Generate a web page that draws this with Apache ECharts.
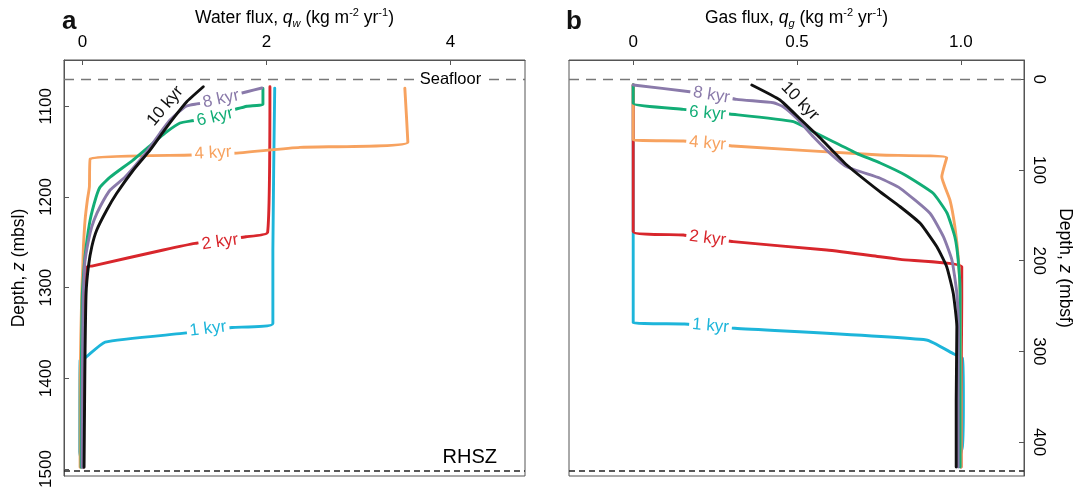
<!DOCTYPE html>
<html>
<head>
<meta charset="utf-8">
<title>Water and gas flux profiles</title>
<script src="https://cdn.jsdelivr.net/npm/echarts@6.0.0/dist/echarts.min.js"></script>
<style>
  html, body { margin: 0; padding: 0; background: #fff; }
  #chart { width: 1084px; height: 489px; }
</style>
</head>
<body>
<div id="chart"></div>
<script>
// ---- Data -------------------------------------------------------------
// Depth of the seafloor and of the regional hydrate stability zone base (mbsl)
const seafloorDepth = 1070.3;
const rhszDepth = 1502;

// Tick values
const waterTicks = [0, 2, 4];
const gasTicks = [0, 0.5, 1.0];
const mbslTicks = [1100, 1200, 1300, 1400, 1500];
const mbsfTicks = [0, 100, 200, 300, 400];

// Panel a: water flux q_w (kg m-2 yr-1) against depth (mbsl), [flux, depth]
const water1kyr = [[2.09, 1080], [2.07, 1259], [2.07, 1339.5], [1.625, 1344], [1.083, 1350.5], [0.247, 1360], [0.029, 1377.4], [-0.025, 1380], [-0.03, 1481], [0.008, 1498]];
const water2kyr = [[2.038, 1078.5], [2.013, 1239], [1.777, 1243.9], [1.224, 1251.2], [0.879, 1258.5], [0.102, 1276.2], [0.054, 1277], [0.029, 1313.7], [0.008, 1424], [0.008, 1498]];
const water4kyr = [[3.504, 1080], [3.537, 1139.6], [2.364, 1145.3], [1.638, 1151.9], [1.188, 1153.8], [0.084, 1158.2], [0.076, 1188.8], [0.054, 1203.4], [0.029, 1225.5], [0.011, 1255], [0.004, 1277], [-0.007, 1306], [-0.025, 1402], [-0.025, 1498]];
const water6kyr = [[1.962, 1080.3], [1.962, 1097.8], [1.788, 1100], [1.224, 1115.4], [1.061, 1118.5], [0.898, 1129.5], [0.768, 1140.6], [0.55, 1159.3], [0.301, 1178.1], [0.192, 1189.1], [0.149, 1200.1], [0.084, 1225.5], [0.04, 1255.2], [0.018, 1277.3], [-0.003, 1313.7], [-0.014, 1424], [-0.014, 1498]];
const water8kyr = [[1.951, 1079.9], [1.788, 1084], [1.278, 1096.8], [1.169, 1098.7], [1.115, 1100.6], [0.952, 1115.2], [0.844, 1129.5], [0.735, 1145], [0.626, 1159.3], [0.464, 1178.1], [0.301, 1192.4], [0.192, 1210.8], [0.127, 1225.5], [0.084, 1239.8], [0.029, 1269.6], [0.018, 1288], [0.008, 1313.7], [-0.003, 1424], [-0.003, 1498]];
const water10kyr = [[1.314, 1078.5], [1.134, 1095], [0.988, 1113.3], [0.879, 1128.1], [0.735, 1148.3], [0.554, 1170.3], [0.373, 1196], [0.265, 1214.4], [0.156, 1236.5], [0.102, 1254.9], [0.065, 1277], [0.04, 1306.3], [0.029, 1368.8], [0.024, 1424], [0.018, 1498]];

// Panel b: gas flux q_g (kg m-2 yr-1) against depth (mbsf), [flux, depth]
const gas1kyr = [[0, 6.3], [0, 268.4], [0.157, 269.8], [0.31, 274.5], [0.895, 287.4], [0.979, 302.9], [1.005, 307.6], [1.008, 353.6], [1.005, 405], [0.989, 425.2]];
const gas2kyr = [[0, 6.3], [0, 168], [0.153, 171.7], [0.305, 179], [0.591, 188.2], [0.754, 195.6], [0.815, 198.5], [1.003, 206.6], [1.003, 243.3], [1.001, 353.6], [1.001, 427.5]];
const gas4kyr = [[0, 6.3], [0, 66.9], [0.153, 68], [0.305, 73.5], [0.754, 83.5], [0.957, 86.4], [0.942, 107.4], [0.967, 133.1], [0.982, 162.5], [0.993, 199.2], [0.998, 235.6], [1.001, 353.6], [1.001, 427.5]];
const gas6kyr = [[0, 6.3], [0, 26.5], [0.153, 33.1], [0.295, 38.3], [0.489, 46.7], [0.55, 57.8], [0.611, 68.8], [0.682, 81.6], [0.754, 92.3], [0.83, 105.5], [0.915, 125.4], [0.958, 147.4], [0.982, 173.9], [0.992, 199.2], [0.998, 235.6], [0.998, 353.6], [0.998, 427.5]];
const gas8kyr = [[0, 6.3], [0.173, 13.7], [0.316, 22.1], [0.428, 25.8], [0.458, 30.2], [0.499, 43], [0.55, 63.3], [0.601, 81.6], [0.652, 96.4], [0.754, 109.1], [0.815, 120.2], [0.906, 147.7], [0.947, 173.5], [0.973, 199.2], [0.988, 235.9], [0.993, 272.8], [0.992, 353.6], [0.992, 427.5]];
const gas10kyr = [[0.362, 6.3], [0.448, 22.8], [0.509, 43.5], [0.57, 64.5], [0.652, 94.5], [0.754, 124.2], [0.815, 140.5], [0.876, 158.8], [0.927, 184.6], [0.957, 206.6], [0.977, 235.9], [0.988, 272.8], [0.986, 353.6], [0.986, 427.5]];

const timeNames = ['1 kyr', '2 kyr', '4 kyr', '6 kyr', '8 kyr', '10 kyr'];

// ---- Styling ----------------------------------------------------------
const FONT = '"Liberation Sans", Arial, Helvetica, sans-serif';
const AXIS_COLOR = '#555';
const TEXT_COLOR = '#000';
const curveColors = ['#1db5da', '#d8262c', '#f7a25f', '#12ad76', '#8a7aaa', '#111111'];

const waterCurves = [water1kyr, water2kyr, water4kyr, water6kyr, water8kyr, water10kyr];
const gasCurves = [gas1kyr, gas2kyr, gas4kyr, gas6kyr, gas8kyr, gas10kyr];

// where each time label sits on its curve: [flux, depth, rotation]
const waterLabelSpots = [[1.365, 1345.4, 7], [1.495, 1249.7, 8], [1.419, 1151.6, 3], [1.441, 1112, 13], [1.506, 1092, 12], [0.9, 1099.8, 50]];
const gasLabelSpots = [[0.236, 272, -5], [0.227, 175.3, -7], [0.227, 70.6, -5], [0.227, 37.5, -5], [0.239, 17.3, -9], [0.509, 24, -46]];

const titleRich = {
  t: { fontFamily: FONT, fontSize: 17.5, color: TEXT_COLOR, lineHeight: 22 },
  i: { fontFamily: FONT, fontSize: 17.5, color: TEXT_COLOR, fontStyle: 'italic', lineHeight: 22 },
  sub: { fontFamily: FONT, fontSize: 11, color: TEXT_COLOR, fontStyle: 'italic', verticalAlign: 'bottom', lineHeight: 22 },
  sup: { fontFamily: FONT, fontSize: 11, color: TEXT_COLOR, verticalAlign: 'top', lineHeight: 22 }
};

function fluxTitle(word, sub) {
  return '{t|' + word + ' flux, }{i|q}{sub|' + sub + '}{t| (kg m}{sup|-2}{t| yr}{sup|-1}{t|)}';
}

function lineSeries(curves, axisIdx) {
  return curves.map((d, k) => ({
    type: 'line',
    name: timeNames[k] + (axisIdx ? ' gas' : ' water'),
    xAxisIndex: axisIdx, yAxisIndex: axisIdx,
    data: d,
    showSymbol: false,
    symbol: 'none',
    smooth: 0.15,
    lineStyle: { color: curveColors[k], width: 2.9, cap: 'round', join: 'round' },
    z: 3 + k
  }));
}

function labelSeries(spots, axisIdx) {
  return {
    type: 'scatter',
    xAxisIndex: axisIdx, yAxisIndex: axisIdx,
    symbolSize: 0,
    silent: true,
    z: 20,
    itemStyle: { opacity: 1 },
    data: spots.map((s, k) => ({
      value: [s[0], s[1]],
      label: {
        show: true,
        position: 'inside',
        formatter: timeNames[k],
        rotate: s[2],
        color: curveColors[k],
        fontFamily: FONT,
        fontSize: 17,
        backgroundColor: k === 5 ? 'transparent' : '#fff',
        padding: [0, 3]
      }
    }))
  };
}

function boundaryLines(axisIdx, top, bottom) {
  return {
    type: 'line',
    xAxisIndex: axisIdx, yAxisIndex: axisIdx,
    data: [],
    silent: true,
    z: 2,
    markLine: {
      silent: true,
      symbol: ['none', 'none'],
      animation: false,
      label: { show: false },
      data: [
        { yAxis: top, lineStyle: { type: [10, 7], color: '#777', width: 1.4 } },
        { yAxis: bottom, lineStyle: { type: [6, 4], color: '#222', width: 1.5 } }
      ]
    }
  };
}

const depthMin = 1049, depthMax = 1507.7;

function axisCommon(ticks) {
  return {
    axisLine: { show: true, onZero: false, lineStyle: { color: AXIS_COLOR } },
    axisTick: { show: true, inside: true, length: 5, customValues: ticks, lineStyle: { color: AXIS_COLOR } },
    splitLine: { show: false }
  };
}

const tickFont = { fontSize: 17, color: TEXT_COLOR, fontFamily: FONT, margin: 9 };

const option = {
  animation: false,
  backgroundColor: '#fff',
  textStyle: { fontFamily: FONT },
  grid: [
    { left: 64, top: 60, width: 461, height: 416, show: true, borderColor: AXIS_COLOR, borderWidth: 1, backgroundColor: 'transparent', containLabel: false, outerBoundsMode: 'none' },
    { left: 569, top: 60, width: 455, height: 416, show: true, borderColor: AXIS_COLOR, borderWidth: 1, backgroundColor: 'transparent', containLabel: false, outerBoundsMode: 'none' }
  ],
  graphic: [
    { type: 'text', left: 62, top: 9, style: { text: 'a', font: 'bold 26px ' + FONT, fill: '#111' } },
    { type: 'text', left: 566, top: 9, style: { text: 'b', font: 'bold 26px ' + FONT, fill: '#111' } }
  ],
  xAxis: [
    Object.assign({
      gridIndex: 0, type: 'value', position: 'top',
      min: -0.2, max: 4.81,
      name: fluxTitle('Water', 'w'), nameLocation: 'middle', nameGap: 31,
      nameTextStyle: { rich: titleRich },
      axisLabel: Object.assign({ customValues: waterTicks, formatter: v => String(v) }, tickFont)
    }, axisCommon(waterTicks)),
    Object.assign({
      gridIndex: 1, type: 'value', position: 'top',
      min: -0.196, max: 1.193,
      name: fluxTitle('Gas', 'g'), nameLocation: 'middle', nameGap: 31,
      nameTextStyle: { rich: titleRich },
      axisLabel: Object.assign({ customValues: gasTicks, formatter: v => (v === 0 ? '0' : v.toFixed(1)) }, tickFont)
    }, axisCommon(gasTicks))
  ],
  yAxis: [
    Object.assign({
      gridIndex: 0, type: 'value', position: 'left', inverse: true,
      min: depthMin, max: depthMax,
      name: '{t|Depth, }{i|z}{t| (mbsl)}', nameLocation: 'middle', nameGap: 34, nameRotate: 90,
      nameTextStyle: { rich: titleRich },
      axisLabel: Object.assign({ customValues: mbslTicks, rotate: 90, formatter: v => String(v) }, tickFont)
    }, axisCommon(mbslTicks)),
    Object.assign({
      gridIndex: 1, type: 'value', position: 'right', inverse: true,
      min: depthMin - seafloorDepth, max: depthMax - seafloorDepth,
      name: '{t|Depth, }{i|z}{t| (mbsf)}', nameLocation: 'middle', nameGap: 30, nameRotate: -90,
      nameTextStyle: { rich: titleRich },
      axisLabel: Object.assign({ customValues: mbsfTicks, rotate: -90, formatter: v => String(v) }, tickFont, { margin: 6 })
    }, axisCommon(mbsfTicks))
  ],
  series: [
    boundaryLines(0, seafloorDepth, rhszDepth),
    boundaryLines(1, 0, rhszDepth - seafloorDepth),
    ...lineSeries(waterCurves, 0),
    ...lineSeries(gasCurves, 1),
    labelSeries(waterLabelSpots, 0),
    labelSeries(gasLabelSpots, 1),
    {
      // boundary names in panel a
      type: 'scatter', xAxisIndex: 0, yAxisIndex: 0, symbolSize: 0, silent: true, z: 21,
      itemStyle: { opacity: 1 },
      data: [
        { value: [4.0, seafloorDepth], label: { show: true, position: 'inside', formatter: 'Seafloor', fontSize: 16.5, color: TEXT_COLOR, fontFamily: FONT, backgroundColor: '#fff', padding: [0, 4] } },
        { value: [4.21, rhszDepth], label: { show: true, position: 'top', distance: 3, formatter: 'RHSZ', fontSize: 20, color: TEXT_COLOR, fontFamily: FONT } }
      ]
    }
  ]
};

const chart = echarts.init(document.getElementById('chart'), null, { renderer: 'canvas' });
chart.setOption(option);
</script>
</body>
</html>
